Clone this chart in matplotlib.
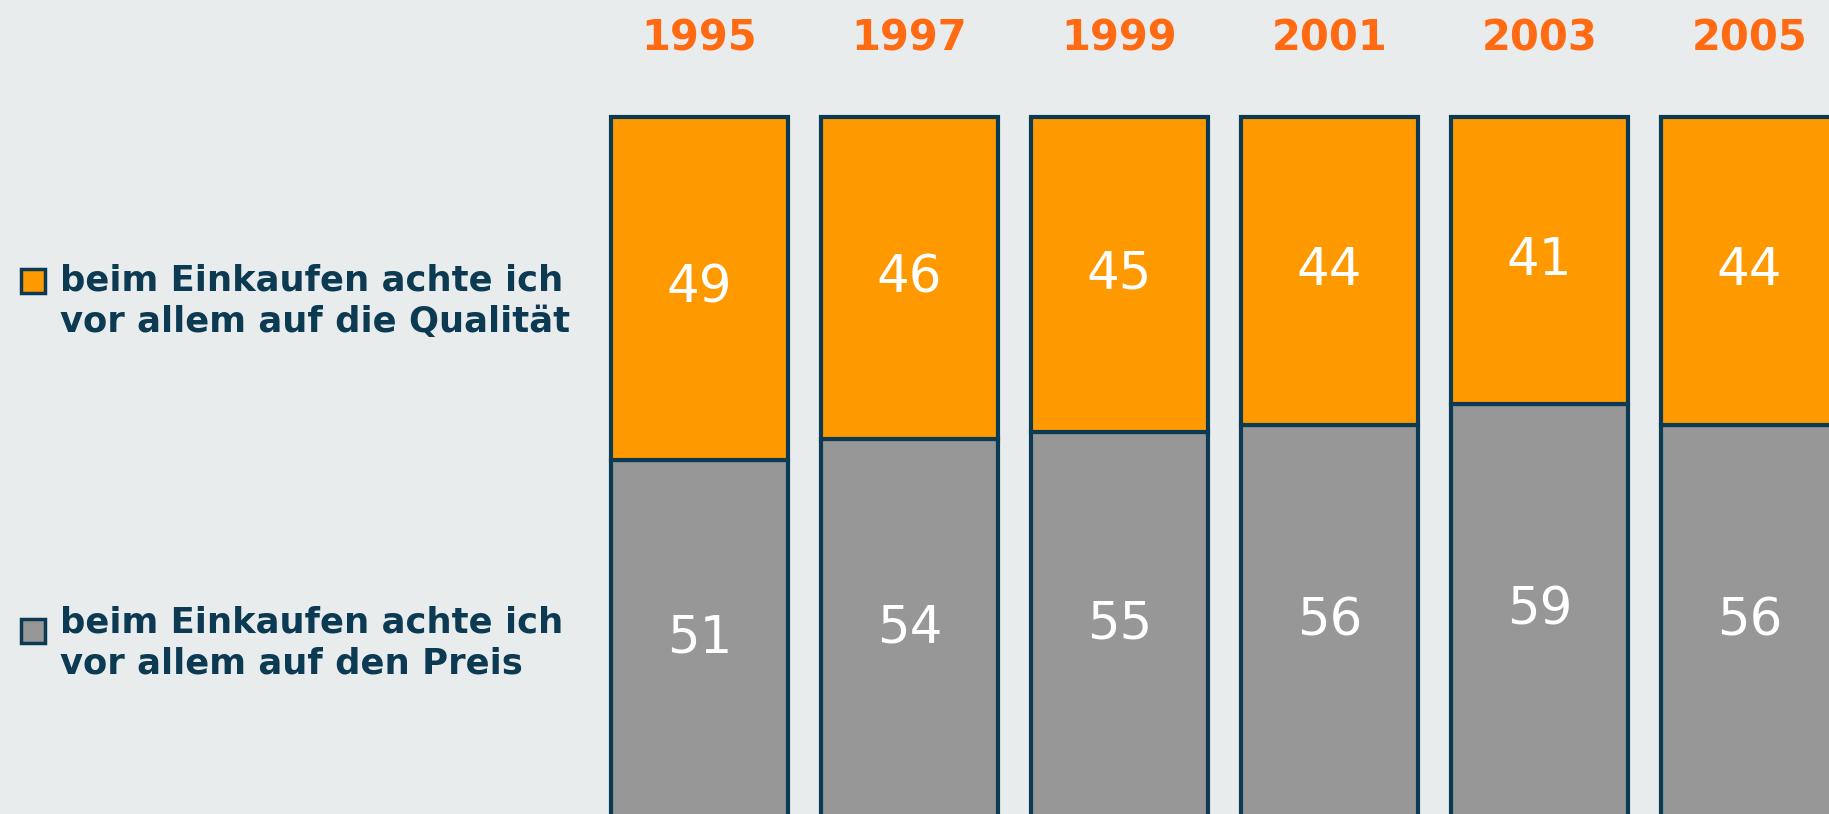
import matplotlib.pyplot as plt
from matplotlib.patches import Rectangle

# data
years = ['1995', '1997', '1999', '2001', '2003', '2005']
qualitaet = [49, 46, 45, 44, 41, 44]
preis = [51, 54, 55, 56, 59, 56]
label_qualitaet = 'beim Einkaufen achte ich\nvor allem auf die Qualität'
label_preis = 'beim Einkaufen achte ich\nvor allem auf den Preis'

bg = '#e9eced'
navy = '#0b3a52'
orange = '#ff9900'
grey = '#979797'
year_col = '#ff6a12'

W, H = 1829, 814
fig = plt.figure(figsize=(W / 100, H / 100), dpi=100, facecolor=bg)
ax = fig.add_axes([0, 0, 1, 1])
ax.set_facecolor(bg)
ax.axis('off')

x = list(range(len(years)))
bw = 177 / 210
ax.bar(x, preis, width=bw, color=grey, edgecolor=navy, linewidth=3)
ax.bar(x, qualitaet, bottom=preis, width=bw, color=orange, edgecolor=navy, linewidth=3)

ax.set_xlim(-699.5 / 210, -699.5 / 210 + W / 210)
ax.set_ylim(0.43, 0.43 + H / 7)

for i in x:
    ax.text(i, 111.2, years[i], ha='center', va='center', color=year_col,
            fontsize=30, fontweight='bold')
    ax.text(i, preis[i] + qualitaet[i] / 2, str(qualitaet[i]), ha='center', va='center',
            color='white', fontsize=37)
    ax.text(i, preis[i] / 2, str(preis[i]), ha='center', va='center',
            color='white', fontsize=37)

# legend on the left
for col, lab, yc, yt in [(orange, label_qualitaet, 281, 301), (grey, label_preis, 631, 643)]:
    fig.patches.append(Rectangle((21 / W, 1 - (yc + 12) / H), 24 / W, 24 / H,
                                 transform=fig.transFigure, facecolor=col,
                                 edgecolor=navy, linewidth=2.5))
    fig.text(60 / W, 1 - yt / H, lab, ha='left', va='center', color=navy,
             fontsize=25.5, fontweight='bold', linespacing=1.28)

fig.savefig('out.png', dpi=100, facecolor=bg)
